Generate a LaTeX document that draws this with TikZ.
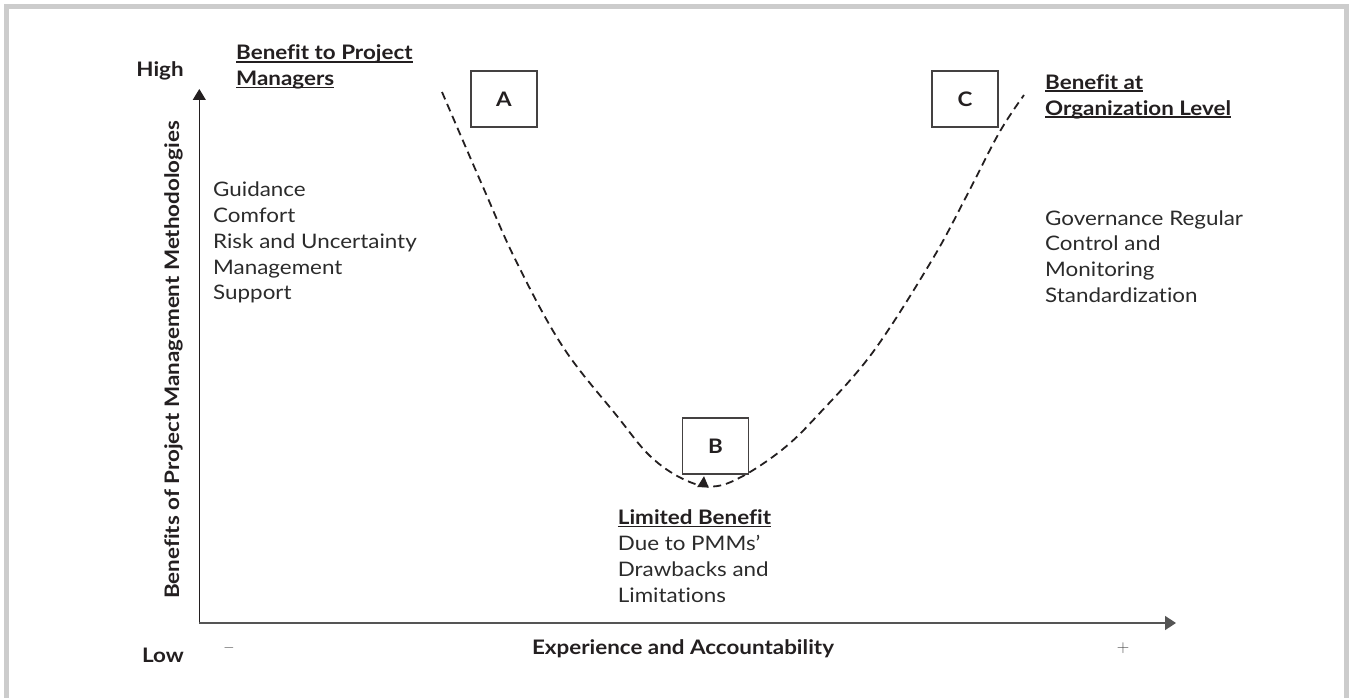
\documentclass[tikz,border=0pt]{standalone}
\usepackage{fontspec}
\setmainfont{Lato}[FakeStretch=1.12, Ligatures=NoCommon]
\usetikzlibrary{arrows.meta}
\definecolor{txt}{HTML}{231F20}
\definecolor{body}{HTML}{2B2B2B}
\definecolor{framegray}{HTML}{CCCCCC}
\definecolor{axisgray}{HTML}{555555}
\newcommand\ulx[1]{\setbox0=\hbox{#1}\rlap{\rule[-2.6pt]{\wd0}{1.4pt}}\box0}
\begin{document}
\begin{tikzpicture}[x=1pt,y=-1pt,
  font=\fontsize{20}{25.8}\selectfont, text=txt,
  lbl/.style={inner sep=0pt, anchor=base west, align=left},
  hdr/.style={inner sep=0pt, anchor=base, font=\fontsize{20}{25.8}\selectfont\bfseries},
  letterbox/.style={draw=txt!85, line width=1.2pt, minimum width=66pt, minimum height=56pt, inner sep=0pt, font=\fontsize{20}{24}\selectfont\bfseries},
  curve/.style={draw=txt, line width=1.8pt, dash pattern=on 8pt off 5pt},
  tick/.style={inner sep=0pt, anchor=base, text=black!70}
]
\useasboundingbox (0,0) rectangle (1349,698);
% outer frame
\draw[framegray, line width=5pt] (6.5,700) -- (6.5,6.5) -- (1346,6.5) -- (1346,700);

% axes
\coordinate (O) at (199.3,623);
\coordinate (Ytop) at (199.3,89);
\coordinate (Xend) at (1176,623);
\draw[txt, line width=1pt, -{Triangle[length=11pt,width=13pt]}] (O) -- (Ytop);
\draw[axisgray, line width=1.5pt, -{Triangle[length=11pt,width=14pt]}] (O) -- (Xend);

% axis labels
\node[hdr] (high) at (160,77) {High};
\node[hdr] (low) at (163,662) {Low};
\node[hdr, rotate=90] (ylab) at (179,360) {Benefits of Project Management Methodologies};
\node[hdr] (xlab) at (683,654) {Experience and Accountability};
\node[tick, font=\fontsize{14}{14}\selectfont] (minus) at (229,651.5) {$-$};
\node[tick, font=\fontsize{17}{17}\selectfont] (plus) at (1123,652.2) {$+$};

% dashed curve
\draw[curve] plot[smooth, tension=0.6] coordinates {(442,92) (483,187) (517,263) (563,347) (617,416) (650,456) (683,479) (713,486.5) (743,476) (783,449) (817,416) (873,352) (932,260) (966,197) (999,133) (1024,95)};
\fill[txt] (704,476.2) -- (697.2,487) -- (708.8,487.6) -- cycle;

% boxes
\node[letterbox] (A) at (504,99) {A};
\node[letterbox] (B) at (715.5,446) {B};
\node[letterbox] (C) at (965,99) {C};

% texts
\node[lbl] (pm) at (236,60) {\bfseries\begin{tabular}[t]{@{}l@{}}\ulx{Benefit to Project}\\\ulx{Managers}\end{tabular}};
\node[lbl] (pmlist) at (213,196.7) {\color{body}\begin{tabular}[t]{@{}l@{}}Guidance\\Comfort\\Risk and Uncertainty\\Management\\Support\end{tabular}};
\node[lbl] (org) at (1045,89.3) {\bfseries\begin{tabular}[t]{@{}l@{}}\ulx{Benefit at}\\\ulx{Organization Level}\end{tabular}};
\node[lbl] (orglist) at (1045,225) {\color{body}\begin{tabular}[t]{@{}l@{}}Governance Regular\\Control and\\Monitoring\\Standardization\end{tabular}};
\node[lbl] (lim) at (617.7,524.7) {\begin{tabular}[t]{@{}l@{}}\bfseries\ulx{Limited Benefit}\\\color{body}Due to PMMs’\\\color{body}Drawbacks and\\\color{body}Limitations\end{tabular}};
\end{tikzpicture}
\end{document}
